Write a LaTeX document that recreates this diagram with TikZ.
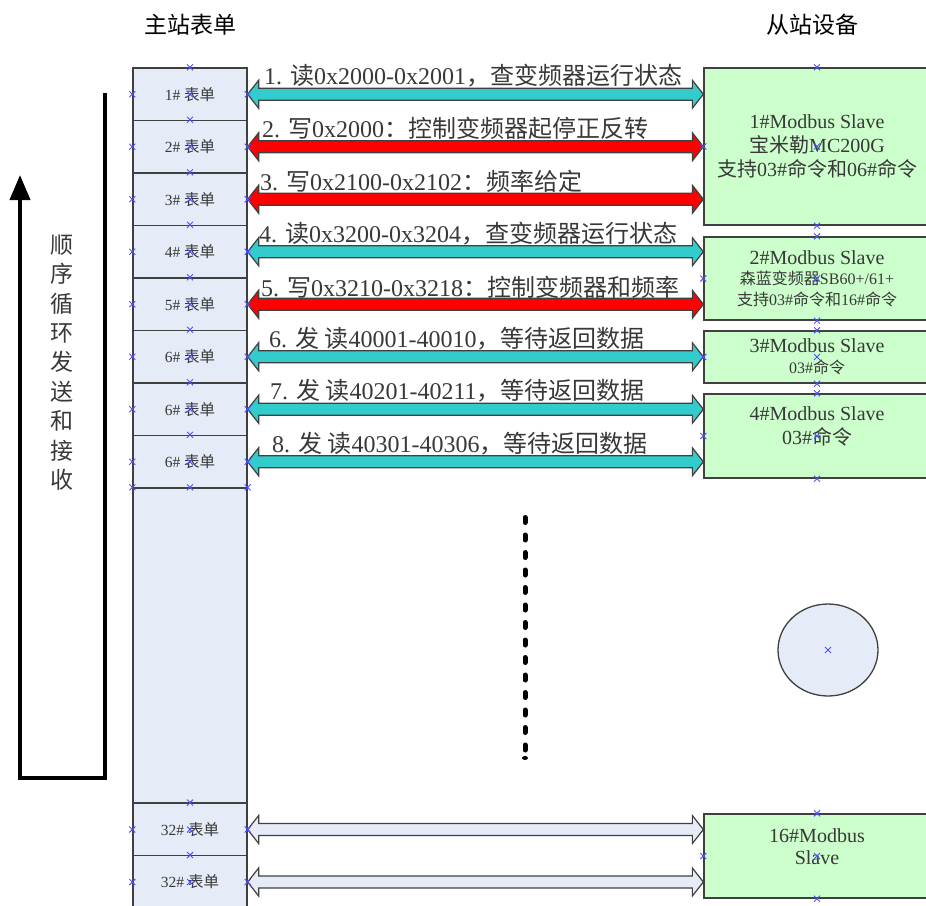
\documentclass[tikz,border=0pt]{standalone}
\usepackage{fontspec}
\setmainfont{Liberation Serif}
\newfontfamily\cjk{Noto Sans CJK SC}
\usetikzlibrary{arrows.meta,shapes.geometric,calc}

\definecolor{formfill}{RGB}{230,236,247}
\definecolor{slavefill}{RGB}{204,255,204}
\definecolor{readcol}{RGB}{51,204,204}
\definecolor{writecol}{RGB}{255,0,0}
\definecolor{edgegray}{RGB}{64,64,64}
\definecolor{textgray}{RGB}{56,56,56}
\definecolor{cpblue}{RGB}{80,80,255}

\newcommand\zh[1]{{\cjk #1}}
% double block arrow between two points on one level
\newcommand\blockarrow[3]{%
  \draw[arrowedge, fill=#1] let \p1=(#2), \p2=(#3) in
    (\p1) -- (\x1+11pt,\y1+14pt) -- (\x1+11pt,\y1+6pt) -- (\x2-11pt,\y2+6pt)
    -- (\x2-11pt,\y2+14pt) -- (\p2) -- (\x2-11pt,\y2-14pt) -- (\x2-11pt,\y2-6pt)
    -- (\x1+11pt,\y1-6pt) -- (\x1+11pt,\y1-14pt) -- cycle;}
% connection point mark
\newcommand\cpmark[1]{%
  \draw[cpt] (#1) +(-3pt,-3pt) -- +(3pt,3pt) +(-3pt,3pt) -- +(3pt,-3pt);}

\tikzset{
  cell/.style={draw=edgegray, line width=1.3pt, fill=formfill, minimum width=114pt,
               minimum height=52.5pt, inner sep=0pt, text=textgray,
               font=\fontsize{15.5}{18}\selectfont},
  slave/.style={draw=edgegray, line width=1.3pt, fill=slavefill, minimum width=226pt, inner sep=0pt},
  slavetext/.style={align=center, text=textgray, inner sep=0pt, font=\fontsize{20}{24}\selectfont},
  msglabel/.style={anchor=west, inner sep=0pt, text=textgray, font=\fontsize{24}{28}\selectfont},
  heading/.style={inner sep=0pt, font=\cjk\fontsize{23}{26}\selectfont},
  arrowedge/.style={draw=edgegray, line width=1.2pt, line join=miter},
  cpt/.style={draw=cpblue, line width=0.9pt},
}

\begin{document}
\begin{tikzpicture}[x=1pt,y=-1pt]
  \useasboundingbox (0,0) rectangle (926,905);
  \clip (0,0) rectangle (926,905);

  \pgfmathsetmacro\rowh{52.5}

% headings
  \node[heading] (mhead) at (190,25) {主站表单};
  \node[heading] (shead) at (812,25) {从站设备};

% loop at left
  \draw[line width=4pt, -{Triangle[length=25pt,width=20pt]}] (105,93) -- (105,778) -- (20,778) -- (20,175);
  \node[align=center, text=textgray, inner sep=0pt, font=\cjk\fontsize{23}{29.4}\selectfont] (loop) at (62,362.5)
    {顺\\序\\循\\环\\发\\送\\和\\接\\收};

% master forms
  \foreach \i/\k in {1/1,2/2,3/3,4/4,5/5,6/6,7/6,8/6}
    \node[cell] (c\i) at (190,68-0.5*\rowh+\i*\rowh) {\k\# \zh{表单}};
  \node[cell, minimum height=315pt] (cgap) at (190,645.5) {};
  \node[cell] (c9) at (190,829.5) {32\# \zh{表单}};
  \node[cell] (c10) at (190,882) {32\# \zh{表单}};

% slaves
  \node[slave, minimum height=157pt] (s1) at (817,146.5) {};
  \node[slave, minimum height=83pt] (s2) at (817,278.5) {};
  \node[slave, minimum height=52pt] (s3) at (817,357) {};
  \node[slave, minimum height=84pt] (s4) at (817,436) {};
  \node[slave, minimum height=84pt] (s16) at (817,856) {};
  \node[ellipse, draw=edgegray, line width=1.3pt, fill=formfill, minimum width=100pt,
        minimum height=92pt, inner sep=0pt] (more) at (828,650) {};

  \node[slavetext] (s1t) at (s1.center)
    {1\#Modbus Slave\\\zh{宝米勒}MC200G\\\zh{支持}03\#\zh{命令和}06\#\zh{命令}};
  \node[slavetext, font=\fontsize{16}{20.5}\selectfont] (s2t) at (s2.center)
    {{\fontsize{20}{24}\selectfont 2\#Modbus Slave}\\\zh{森蓝变频器}SB60+/61+\\\zh{支持}03\#\zh{命令和}16\#\zh{命令}};
  \node[slavetext, font=\fontsize{16}{21}\selectfont] (s3t) at (s3.center)
    {{\fontsize{20}{24}\selectfont 3\#Modbus Slave}\\03\#\zh{命令}};
  \node[slavetext] (s4t) at ([yshift=10pt]s4.center) {4\#Modbus Slave\\03\#\zh{命令}};
  \node[slavetext, font=\fontsize{20}{22}\selectfont] (s16t) at ([yshift=9pt]s16.center) {16\#Modbus\\Slave};

% messages
  \foreach \i/\s/\f in {1/s1/readcol,2/s1/writecol,3/s1/writecol,4/s2/readcol,5/s2/writecol,
                        6/s3/readcol,7/s4/readcol,8/s4/readcol,9/s16/formfill,10/s16/formfill}
    {\blockarrow{\f}{c\i.east}{c\i.east -| \s.west}}

  \node[msglabel] (m1) at (264,76) {1. \zh{读}0x2000-0x2001\zh{，查变频器运行状态}};
  \node[msglabel] (m2) at (262,128) {2. \zh{写}0x2000\zh{：控制变频器起停正反转}};
  \node[msglabel] (m3) at (260,181) {3. \zh{写}0x2100-0x2102\zh{：频率给定}};
  \node[msglabel] (m4) at (259,234) {4. \zh{读}0x3200-0x3204\zh{，查变频器运行状态}};
  \node[msglabel] (m5) at (261,287) {5. \zh{写}0x3210-0x3218\zh{：控制变频器和频率}};
  \node[msglabel] (m6) at (269,339) {6. \zh{发 读}40001-40010\zh{，等待返回数据}};
  \node[msglabel] (m7) at (270,391) {7. \zh{发 读}40201-40211\zh{，等待返回数据}};
  \node[msglabel] (m8) at (272,444) {8. \zh{发 读}40301-40306\zh{，等待返回数据}};

% more slaves
  \draw[line width=5pt, dash pattern=on 5pt off 12.5pt, line cap=round] (525,517.5) -- (525,752);
  \fill (525,758) ellipse (3pt and 2pt);

% connection points
  \foreach \n in {c1,c2,c3,c4,c5,c6,c7,c8,c9,c10}
    {\foreach \a in {north,west,center,east}
      {\cpmark{\n.\a}}}
  \foreach \a in {north west,north,north east}
    {\cpmark{cgap.\a}}
  \foreach \n in {s1,s2,s3,s4,s16}
    {\foreach \a in {north,south,west,center}
      {\cpmark{\n.\a}}}
  \cpmark{more.center}

\end{tikzpicture}
\end{document}
